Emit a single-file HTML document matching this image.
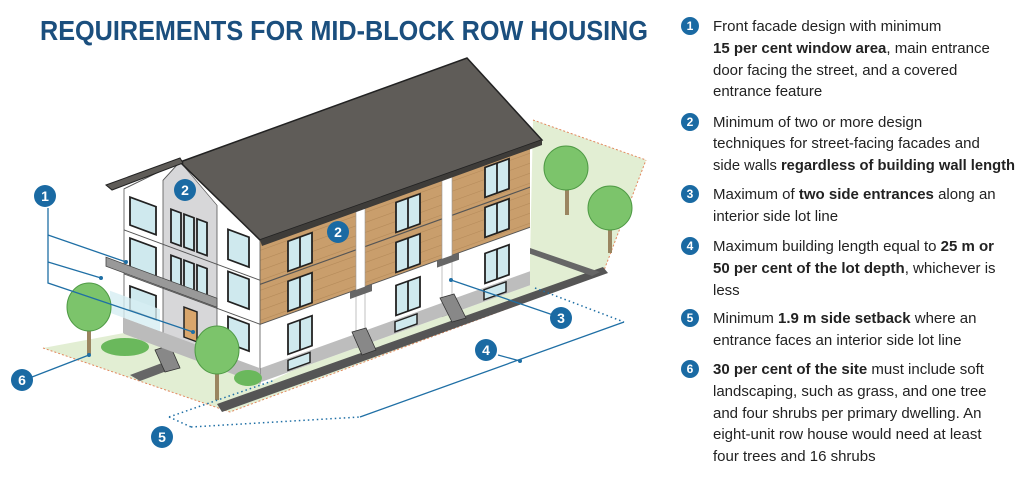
<!DOCTYPE html>
<html><head><meta charset="utf-8"><style>
html,body{margin:0;padding:0;background:#fff;}
svg{display:block;}
.t{font-family:"Liberation Sans",sans-serif;font-size:15px;fill:#222;}
.b{font-weight:bold;}
.n{font-family:"Liberation Sans",sans-serif;font-weight:bold;font-size:14px;fill:#fff;text-anchor:middle;}
</style></head><body>
<svg width="1030" height="499" viewBox="0 0 1030 499" xmlns="http://www.w3.org/2000/svg">
<defs>
<g id="win"><rect x="0" y="0" width="24" height="30" fill="#cfe9ee" stroke="#222" stroke-width="1.8"/><line x1="12" y1="0" x2="12" y2="30" stroke="#222" stroke-width="1.8"/></g>
</defs>
<text x="40" y="40" textLength="608" lengthAdjust="spacingAndGlyphs" font-family="Liberation Sans, sans-serif" font-weight="bold" font-size="28" fill="#1b4f7e">REQUIREMENTS FOR MID-BLOCK ROW HOUSING</text>

<!-- lawn -->
<polygon points="43,348 230,412 603,273 646,160 533,120 530,260 262,385 124,333" fill="#e2eed3"/>
<path d="M43,348 L230,412 L603,273 L646,160" fill="none" stroke="#e2885e" stroke-width="1" stroke-dasharray="2,2"/>
<path d="M533,120 L646,160" fill="none" stroke="#e2885e" stroke-width="1" stroke-dasharray="2,2"/>
<!-- sidewalk strips -->
<polygon points="217,404 603,267 608,273 222,412" fill="#555"/>
<polygon points="130,375 170,360 180,366 140,381" fill="#666"/>
<polygon points="530,248 600,272 592,276 525,252" fill="#666"/>

<!-- side wall -->
<g transform="matrix(1,-0.36,0,1,0,0)">
 <rect x="260" y="418" width="270" height="58" fill="#fff"/>
 <rect x="260" y="334" width="270" height="84" fill="#c99e6c"/>
 <g stroke="#b48a5a" stroke-width="0.6">
  <line x1="260" y1="344" x2="530" y2="344"/><line x1="260" y1="354" x2="530" y2="354"/><line x1="260" y1="364" x2="530" y2="364"/><line x1="260" y1="374" x2="530" y2="374"/><line x1="260" y1="384" x2="530" y2="384"/><line x1="260" y1="394" x2="530" y2="394"/><line x1="260" y1="404" x2="530" y2="404"/><line x1="260" y1="414" x2="530" y2="414"/>
 </g>
 <line x1="260" y1="378" x2="530" y2="378" stroke="#555" stroke-width="1.2"/>
 <line x1="260" y1="418" x2="530" y2="418" stroke="#555" stroke-width="1"/>
 <rect x="356" y="334" width="9" height="142" fill="#fff" stroke="#999" stroke-width="0.6"/>
 <rect x="442" y="334" width="10" height="142" fill="#fff" stroke="#999" stroke-width="0.6"/>
 <rect x="260" y="462" width="270" height="14" fill="#bdbdbd"/>
 <use href="#win" x="288" y="345"/><use href="#win" x="288" y="385"/><use href="#win" x="288" y="428"/>
 <use href="#win" x="396" y="345"/><use href="#win" x="396" y="385"/><use href="#win" x="396" y="428"/>
 <use href="#win" x="485" y="342"/><use href="#win" x="485" y="382"/><use href="#win" x="485" y="428"/>
 <rect x="288" y="464" width="22" height="10" fill="#cfe9ee" stroke="#222" stroke-width="1.5"/>
 <rect x="395" y="464" width="22" height="10" fill="#cfe9ee" stroke="#222" stroke-width="1.5"/>
 <rect x="484" y="464" width="22" height="10" fill="#cfe9ee" stroke="#222" stroke-width="1.5"/>
 <rect x="350" y="418" width="22" height="7" fill="#666"/>
 <rect x="437" y="418" width="22" height="7" fill="#666"/>
</g>
<!-- stairs -->
<g fill="#888" stroke="#333" stroke-width="0.8">
 <polygon points="352,332 366,328 376,350 362,355"/>
 <polygon points="440,298 454,294 466,318 452,322"/>
 <polygon points="155,350 170,345 180,368 165,372"/>
</g>

<!-- front face -->
<g transform="matrix(1,0.37,0,1,0,0)">
 <polygon points="124,143 180,95 260,143 260,287 124,287" fill="#fff" stroke="#555" stroke-width="0.8"/>
 <polygon points="163,120 180,95 217,125 217,287 163,287" fill="#d7d7d9" stroke="#555" stroke-width="0.8"/>
 <rect x="124" y="272" width="136" height="16" fill="#bbb"/>
 <line x1="124" y1="184" x2="260" y2="184" stroke="#555" stroke-width="1"/>
 <line x1="124" y1="228" x2="260" y2="228" stroke="#555" stroke-width="1"/>
 <g fill="#cfe9ee" stroke="#222" stroke-width="1.8">
  <rect x="130" y="149" width="26" height="28"/><rect x="130" y="190" width="26" height="30"/><rect x="130" y="238" width="26" height="24"/>
  <rect x="171" y="146" width="10" height="33"/><rect x="184" y="146" width="10" height="33"/><rect x="197" y="146" width="10" height="33"/>
  <rect x="171" y="192" width="10" height="34"/><rect x="184" y="192" width="10" height="34"/><rect x="197" y="192" width="10" height="34"/>
  <rect x="228" y="145" width="21" height="30"/><rect x="228" y="187" width="21" height="30"/><rect x="228" y="232" width="21" height="27"/>
 </g>
 <rect x="106" y="218" width="111" height="9" fill="#999" stroke="#444" stroke-width="0.8"/>
 <rect x="184" y="239" width="13" height="30" fill="#d9a66c" stroke="#222" stroke-width="1.5"/>
 <rect x="110" y="250" width="50" height="22" fill="#d6eef2" opacity="0.8"/>
</g>

<!-- roof -->
<polygon points="180,162 467,58 542,140 260,240" fill="#5f5c58" stroke="#222" stroke-width="1.5"/>
<polygon points="106,185 180,158 183,163 112,190" fill="#5f5c58" stroke="#222" stroke-width="1"/>
<polygon points="260,240 542,140 542,145 262,246" fill="#3e3c39"/>

<!-- trees -->
<g>
 <ellipse cx="125" cy="347" rx="24" ry="9" fill="#6ab85c"/>
 <ellipse cx="248" cy="378" rx="14" ry="8" fill="#6ab85c"/>
 <rect x="87" y="318" width="4" height="36" fill="#9a8560"/>
 <ellipse cx="89" cy="307" rx="22" ry="24" fill="#7cc46b" stroke="#4f9a45" stroke-width="1"/>
 <rect x="215" y="360" width="4" height="40" fill="#9a8560"/>
 <ellipse cx="217" cy="350" rx="22" ry="24" fill="#7cc46b" stroke="#4f9a45" stroke-width="1"/>
 <rect x="565" y="180" width="4" height="35" fill="#9a8560"/>
 <ellipse cx="566" cy="168" rx="22" ry="22" fill="#7cc46b" stroke="#4f9a45" stroke-width="1"/>
 <rect x="608" y="220" width="4" height="33" fill="#9a8560"/>
 <ellipse cx="610" cy="208" rx="22" ry="22" fill="#7cc46b" stroke="#4f9a45" stroke-width="1"/>
</g>

<!-- callout lines -->
<g stroke="#1f6fa5" stroke-width="1.3" fill="none">
 <polyline points="48,208 48,283 193,332"/>
 <line x1="48" y1="235" x2="126" y2="262"/>
 <line x1="48" y1="262" x2="101" y2="278"/>
 <line x1="451" y1="280" x2="559" y2="317"/>
 <line x1="360" y1="417" x2="624" y2="322"/>
 <line x1="498" y1="355" x2="520" y2="361"/>
 <line x1="89" y1="355" x2="32" y2="377"/>
</g>
<g stroke="#1f6fa5" stroke-width="1.5" fill="none" stroke-dasharray="1.5,3">
 <line x1="169" y1="417" x2="275" y2="380"/>
 <line x1="191" y1="427" x2="360" y2="417"/>
 <line x1="169" y1="417" x2="191" y2="427"/>
 <line x1="535" y1="288" x2="624" y2="322"/>
</g>
<g fill="#1f6fa5"><circle cx="126" cy="262" r="2"/><circle cx="101" cy="278" r="2"/><circle cx="193" cy="332" r="2"/><circle cx="451" cy="280" r="2"/><circle cx="89" cy="355" r="2"/><circle cx="520" cy="361" r="2"/></g>

<!-- callout circles -->
<g fill="#1a6aa3">
 <circle cx="45" cy="196" r="11"/><circle cx="185" cy="190" r="11"/><circle cx="338" cy="232" r="11"/>
 <circle cx="561" cy="318" r="11"/><circle cx="486" cy="350" r="11"/><circle cx="162" cy="437" r="11"/><circle cx="22" cy="380" r="11"/>
</g>
<text class="n" x="45" y="201">1</text><text class="n" x="185" y="195">2</text><text class="n" x="338" y="237">2</text>
<text class="n" x="561" y="323">3</text><text class="n" x="486" y="355">4</text><text class="n" x="162" y="442">5</text><text class="n" x="22" y="385">6</text>

<!-- legend -->
<g fill="#1a6aa3">
 <circle cx="690" cy="26" r="9"/><circle cx="690" cy="122" r="9"/><circle cx="690" cy="194" r="9"/>
 <circle cx="690" cy="246" r="9"/><circle cx="690" cy="318" r="9"/><circle cx="690" cy="369" r="9"/>
</g>
<g font-family="Liberation Sans, sans-serif" font-weight="bold" font-size="12" fill="#fff" text-anchor="middle">
 <text x="690" y="30">1</text><text x="690" y="126">2</text><text x="690" y="198">3</text><text x="690" y="250">4</text><text x="690" y="322">5</text><text x="690" y="373">6</text>
</g>
<text class="t" x="713" y="31">Front facade design with minimum</text>
<text class="t" x="713" y="53"><tspan class="b">15 per cent window area</tspan>, main entrance</text>
<text class="t" x="713" y="75">door facing the street, and a covered</text>
<text class="t" x="713" y="96">entrance feature</text>
<text class="t" x="713" y="127">Minimum of two or more design</text>
<text class="t" x="713" y="148">techniques for street-facing facades and</text>
<text class="t" x="713" y="170" textLength="302" lengthAdjust="spacingAndGlyphs">side walls <tspan class="b">regardless of building wall length</tspan></text>
<text class="t" x="713" y="199">Maximum of <tspan class="b">two side entrances</tspan> along an</text>
<text class="t" x="713" y="221">interior side lot line</text>
<text class="t" x="713" y="251">Maximum building length equal to <tspan class="b">25 m or</tspan></text>
<text class="t" x="713" y="273"><tspan class="b">50 per cent of the lot depth</tspan>, whichever is</text>
<text class="t" x="713" y="295">less</text>
<text class="t" x="713" y="323">Minimum <tspan class="b">1.9 m side setback</tspan> where an</text>
<text class="t" x="713" y="345">entrance faces an interior side lot line</text>
<text class="t" x="713" y="374"><tspan class="b">30 per cent of the site</tspan> must include soft</text>
<text class="t" x="713" y="396">landscaping, such as grass, and one tree</text>
<text class="t" x="713" y="418">and four shrubs per primary dwelling. An</text>
<text class="t" x="713" y="439">eight-unit row house would need at least</text>
<text class="t" x="713" y="461">four trees and 16 shrubs</text>
</svg>
</body></html>
